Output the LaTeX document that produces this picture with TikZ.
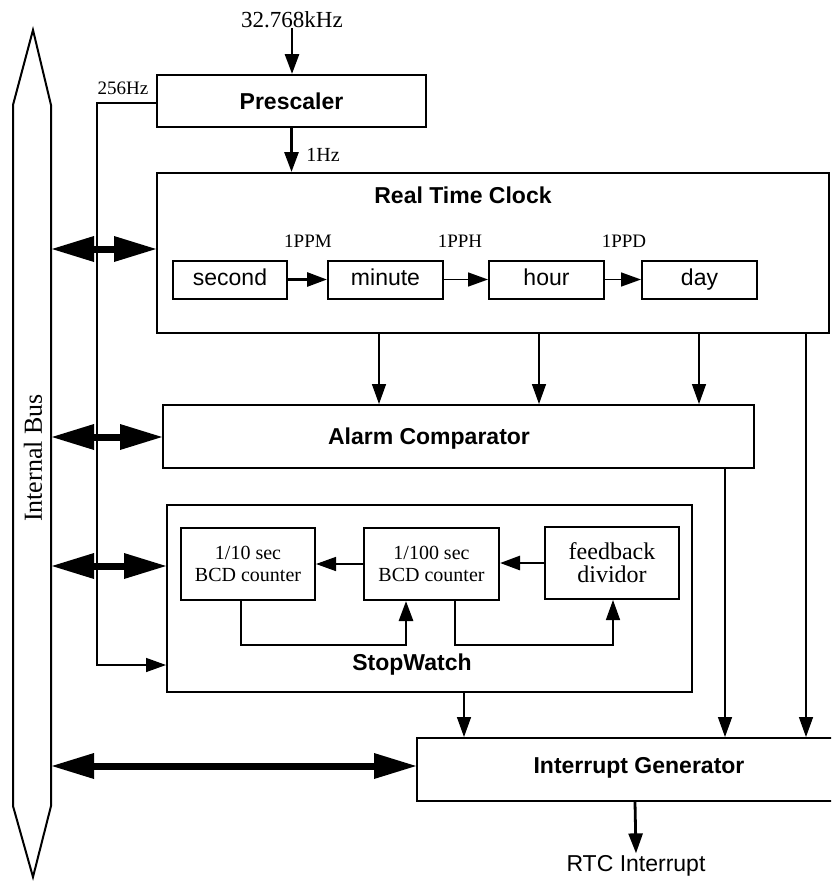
\documentclass[tikz,border=0pt]{standalone}
\usepackage{fontspec}
\setmainfont{Liberation Serif}
\newfontfamily\arialfont{Liberation Sans}
\usetikzlibrary{arrows.meta}

\begin{document}
\begin{tikzpicture}[x=1pt, y=-1pt]
    \tikzstyle{block} = [rectangle, draw, line width=2pt, inner sep=0pt, font=\arialfont\bfseries\fontsize{23}{26}\selectfont]
    \tikzstyle{title} = [inner sep=0pt, font=\arialfont\bfseries\fontsize{23}{26}\selectfont]
    \tikzstyle{unit} = [rectangle, draw, line width=2pt, inner sep=0pt, text height=16pt, text depth=4pt, minimum width=115pt, minimum height=38pt, font=\arialfont\fontsize{23}{26}\selectfont]
    \tikzstyle{counter} = [rectangle, draw, line width=2pt, inner sep=0pt, align=center, minimum width=134pt, minimum height=72pt, font=\fontsize{20}{22}\selectfont]
    \tikzstyle{freq} = [inner sep=0pt, font=\fontsize{19}{21}\selectfont]
    \tikzstyle{sig} = [line width=1.5pt, -{Triangle[length=20pt, width=14pt]}]
    \tikzstyle{thicksig} = [sig, line width=2.8pt]
    \tikzstyle{busarrow} = [line width=7pt, {Triangle[length=42pt, width=26pt, line width=0pt]}-{Triangle[length=42pt, width=26pt, line width=0pt]}]

    \useasboundingbox (0,0) rectangle (831,881);
    \clip (0,0) rectangle (831,881);

    % Internal bus
    \draw[line width=2pt] (13,105) -- (33,30) -- (51,105) -- (51,806) -- (33,877) -- (13,806) -- cycle;
    \node[rotate=90, inner sep=0pt, font=\fontsize{26}{28}\selectfont] (buslabel) at (33,458) {Internal Bus};

    % Blocks
    \node[block, minimum width=269pt, minimum height=52pt] (pre) at (291.5,101) {Prescaler};
    \node[block, minimum width=672pt, minimum height=160pt] (rtc) at (493,253) {};
    \node[block, minimum width=591pt, minimum height=63pt] (alarm) at (458.5,436.5) {};
    \node[block, minimum width=525pt, minimum height=187pt] (stopw) at (429.5,598.5) {};
    \node[block, minimum width=417pt, minimum height=63pt] (intgen) at (625.5,769.5) {};
    \node[title] (rtctitle) at (463,195) {Real Time Clock};
    \node[title] (alarmtitle) at (429,439) {Alarm Comparator};
    \node[title] (stoptitle) at (412,665) {StopWatch};
    \node[title] (igtitle) at (639,768) {Interrupt Generator};

    % Clock chain
    \node[unit, minimum width=114pt] (sec) at (230,279.5) {second};
    \node[unit] (min) at (385.5,279.5) {minute};
    \node[unit] (hour) at (546.5,279.5) {hour};
    \node[unit] (day) at (699.5,279.5) {day};
    \draw[thicksig] (sec) -- (min);
    \draw[sig] (min) -- (hour);
    \draw[sig] (hour) -- (day);
    \node[freq] (ppm) at (308,241) {1PPM};
    \node[freq] (pph) at (460,241) {1PPH};
    \node[freq] (ppd) at (624,241) {1PPD};

    % Stopwatch counters
    \node[counter] (tenth) at (248,564) {1/10 sec\\BCD counter};
    \node[counter, minimum width=135pt] (hund) at (431.5,564) {1/100 sec\\BCD counter};
    \node[counter, font=\fontsize{24}{23}\selectfont] (fdiv) at (612,563) {feedback\\divid{}or};
    \draw[sig] (hund) -- (tenth);
    \draw[thicksig] (fdiv.west) -- (fdiv.west -| hund.east);
    \draw[thicksig] ([xshift=61pt]tenth.south west) -- ++(0,44) -| ([xshift=43pt]hund.south west);
    \draw[sig] ([xshift=92pt]hund.south west) -- ++(0,44) -| ([xshift=69pt]fdiv.south west);

    % Clock inputs
    \node[inner sep=0pt, font=\fontsize{23}{25}\selectfont] (osc) at (292,20) {32.768kHz};
    \draw[thicksig] (osc) -- (osc |- pre.north);
    \draw[thicksig] (pre.south) -- (pre.south |- rtc.north);
    \node[freq, font=\fontsize{20}{22}\selectfont] (onehz) at (323,155) {1Hz};
    \node[freq] (k256) at (123,88) {256Hz};
    \coordinate (clk) at (97,665);
    \draw[sig] ([yshift=-2pt]pre.west) -| (clk) -- (clk -| stopw.west);

    % Compare and interrupt paths
    \foreach \s in {223,383,543}
        \draw[sig] ([xshift=\s pt]rtc.south west) -- ([xshift=\s pt]rtc.south west |- alarm.north);
    \draw[sig] ([xshift=650pt]rtc.south west) -- ([xshift=650pt]rtc.south west |- intgen.north);
    \draw[sig] ([xshift=563pt]alarm.south west) -- ([xshift=563pt]alarm.south west |- intgen.north);
    \draw[sig] ([xshift=298pt]stopw.south west) -- ([xshift=298pt]stopw.south west |- intgen.north);
    \node[inner sep=2pt, font=\arialfont\fontsize{23}{25}\selectfont] (rtcint) at (636,866) {RTC Interrupt};
    \draw[thicksig] ([xshift=219pt]intgen.south west) -- (rtcint.north);

    % Bus connections
    \foreach \y/\blk in {249/rtc, 437/alarm, 566/stopw, 766/intgen} {
        \coordinate (bus\blk) at (52,\y);
        \draw[busarrow] (bus\blk) -- (bus\blk -| \blk.west);
    }
\end{tikzpicture}
\end{document}
